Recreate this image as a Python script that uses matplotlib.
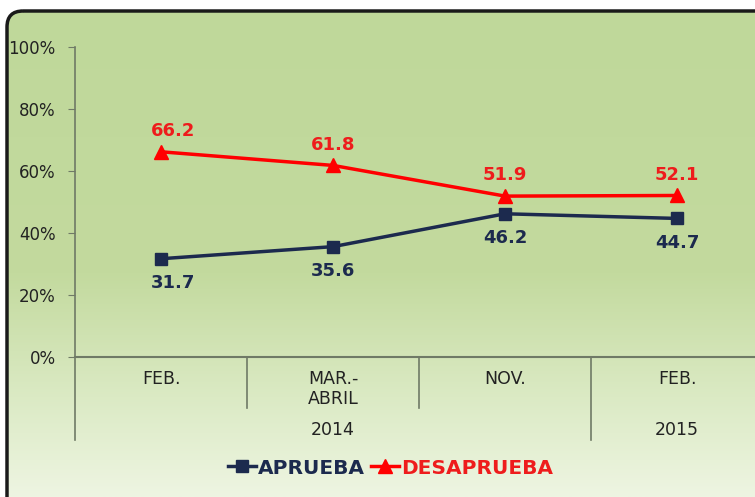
import matplotlib

matplotlib.use("Agg")
import matplotlib.pyplot as plt
import numpy as np
from matplotlib.colors import LinearSegmentedColormap
from matplotlib.patches import FancyBboxPatch

months = ["FEB.", "MAR.-\nABRIL", "NOV.", "FEB."]
years = ["2014", "2015"]
year_spans = [(0, 2), (3, 3)]
aprueba = [31.7, 35.6, 46.2, 44.7]
desaprueba = [66.2, 61.8, 51.9, 52.1]
y_ticks = [0, 20, 40, 60, 80, 100]

plt.rcParams["font.family"] = ["DejaVu Sans"]

W, H = 755, 497
fig = plt.figure(figsize=(W / 100, H / 100), dpi=100)

# background panel with rounded border and vertical gradient
bg = fig.add_axes([0, 0, 1, 1])
bg.set_xlim(0, W)
bg.set_ylim(H, 0)
bg.axis("off")
cmap = LinearSegmentedColormap.from_list(
    "g", [(0, "#bfd89a"), (0.55, "#c3da9e"), (0.8, "#dbeac4"), (1, "#eef5e2")]
)
grad = np.linspace(0, 1, 256).reshape(-1, 1)
im = bg.imshow(grad, cmap=cmap, aspect="auto", extent=(0, W, H, 0))
panel = FancyBboxPatch((7, 11), W + 40, H + 40, boxstyle="round,pad=0,rounding_size=16",
                       facecolor="none", edgecolor="#1a1a1a", linewidth=2.5)
bg.add_patch(panel)
im.set_clip_path(panel)

# plot area: x 75..763 px, y 47..357 px
left, right, top, bottom = 75, 763, 47, 357
ax = fig.add_axes([left / W, 1 - bottom / H, (right - left) / W, (bottom - top) / H])
ax.set_facecolor("none")
ax.set_xlim(-0.5, 3.5)
ax.set_ylim(0, 100)
x = np.arange(len(months))

ax.plot(x, aprueba, color="#1c2a4e", linewidth=2.5, marker="s", markersize=8,
        label="APRUEBA", zorder=3)
ax.plot(x, desaprueba, color="#ff0000", linewidth=2.5, marker="^", markersize=10,
        label="DESAPRUEBA", zorder=3)

# the first column's labels sit a little right of the point in the original
label_dx = [9, 0, 0, 0]
for xi, v, dx in zip(x, aprueba, label_dx):
    ax.annotate(f"{v:.1f}", (xi, v), xytext=(dx, -17.5), textcoords="offset points",
                ha="center", va="center", fontsize=13, fontweight="bold", color="#1c2a4e")
for xi, v, dx in zip(x, desaprueba, label_dx):
    ax.annotate(f"{v:.1f}", (xi, v), xytext=(dx, 15), textcoords="offset points",
                ha="center", va="center", fontsize=13, fontweight="bold", color="#ee1c1c")

axis_color = "#6f7a66"
for s in ["top", "right"]:
    ax.spines[s].set_visible(False)
ax.spines["left"].set_color(axis_color)
ax.spines["bottom"].set_color(axis_color)
ax.spines["left"].set_linewidth(1.2)
ax.spines["bottom"].set_linewidth(1.5)
ax.set_yticks(y_ticks)
ax.set_yticklabels([f"{t}%" for t in y_ticks])
ax.tick_params(axis="y", length=5, color=axis_color, labelsize=12, labelcolor="#222222", pad=9)
ax.set_xticks([])

# category labels and separators below the axis
trans = ax.get_xaxis_transform()
px = 1 / (bottom - top)
for xi, m in zip(x, months):
    yoff = -32 if "\n" in m else -22
    ax.text(xi, yoff * px, m, transform=trans, ha="center", va="center", fontsize=12.5,
            color="#222222", linespacing=1.15)
for (a, b), yr in zip(year_spans, years):
    ax.text((a + b) / 2, -73 * px, yr, transform=trans, ha="center", va="center",
            fontsize=12.5, color="#222222")
for b in np.arange(-0.5, 3.0, 1.0):
    depth = 83 if b in (-0.5, 2.5) else 51
    ax.plot([b, b], [0, -depth * px], transform=trans, color=axis_color, linewidth=1.2,
            clip_on=False)

leg = fig.legend(loc="center", bbox_to_anchor=(0.517, 1 - 468 / H), ncol=2, frameon=False,
                 handlelength=1.4, handletextpad=0.1, columnspacing=0.3,
                 prop={"weight": "bold", "size": 14.5})
for t, c in zip(leg.get_texts(), ["#1c2a4e", "#ee1c1c"]):
    t.set_color(c)

fig.savefig("out.png", dpi=100)
